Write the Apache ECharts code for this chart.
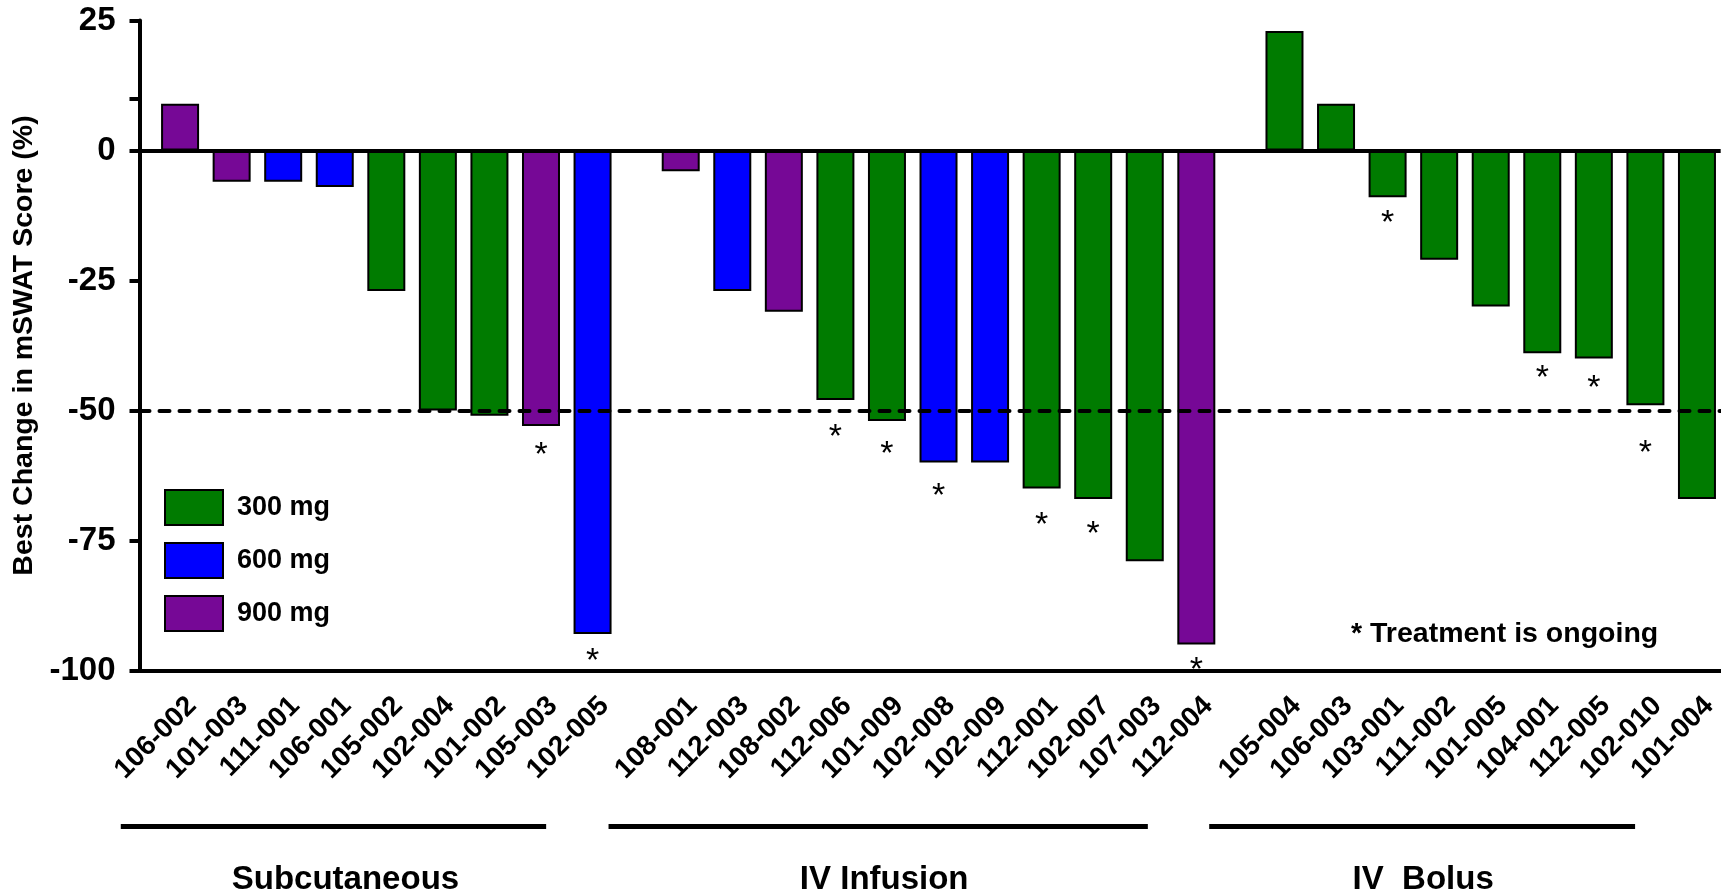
<!DOCTYPE html>
<html>
<head>
<meta charset="utf-8">
<title>Best Change in mSWAT Score</title>
<script src="https://cdn.jsdelivr.net/npm/echarts@6/dist/echarts.min.js"></script>
<style>
  html, body { margin: 0; padding: 0; background: #ffffff; }
  #chart { width: 1721px; height: 894px; }
</style>
</head>
<body>
<div id="chart"></div>
<script>
// ---- Data: best change in mSWAT score (%) per patient, by route of administration ----
const subcutaneousIds      = ['106-002', '101-003', '111-001', '106-001', '105-002', '102-004', '101-002', '105-003', '102-005'];
const subcutaneousChange   = [9, -6, -6, -7, -27, -50, -51, -53, -93];
const subcutaneousDose     = [900, 900, 600, 600, 300, 300, 300, 900, 600];
const subcutaneousOngoing  = [false, false, false, false, false, false, false, true, true];

const infusionIds          = ['108-001', '112-003', '108-002', '112-006', '101-009', '102-008', '102-009', '112-001', '102-007', '107-003', '112-004'];
const infusionChange       = [-4, -27, -31, -48, -52, -60, -60, -65, -67, -79, -95];
const infusionDose         = [900, 600, 900, 300, 300, 600, 600, 300, 300, 300, 900];
const infusionOngoing      = [false, false, false, true, true, true, false, true, true, false, true];

const bolusIds             = ['105-004', '106-003', '103-001', '111-002', '101-005', '104-001', '112-005', '102-010', '101-004'];
const bolusChange          = [23, 9, -9, -21, -30, -39, -40, -49, -67];
const bolusDose            = [300, 300, 300, 300, 300, 300, 300, 300, 300];
const bolusOngoing         = [false, false, true, false, false, true, true, true, false];

const groupNames   = ['Subcutaneous', 'IV Infusion', 'IV  Bolus'];
const doseLevels   = [300, 600, 900];
const doseNames    = ['300 mg', '600 mg', '900 mg'];
const yTickValues  = [25, 10, 0, -25, -50, -75, -100];
const responseCut  = -50;
const ongoingNote  = '* Treatment is ongoing';

// ---- Styling / layout ----
const FONT = "'Liberation Sans', Arial, Helvetica, sans-serif";
const doseColors = { 300: '#007b00', 600: '#0000ff', 900: '#760896' };
const groupGap = 0.71;                 // extra slot space between route groups
const bracketSpan = [[-1.15, -0.9], [-1.4, -0.94], [-1.46, -1.2]];
const groupNameShift = [12, 6, 1];     // px nudge of each route name from its bracket centre
// gap (px) between a bar's end and its "ongoing" asterisk
const asteriskGap = {
  '105-003': 13, '102-005': 11, '112-006': 21, '101-009': 17, '102-008': 17,
  '112-001': 20, '102-007': 19, '112-004': 9, '103-001': 9, '104-001': 8,
  '112-005': 13, '102-010': 31
};

const groups = [
  { ids: subcutaneousIds, change: subcutaneousChange, dose: subcutaneousDose, ongoing: subcutaneousOngoing },
  { ids: infusionIds,     change: infusionChange,     dose: infusionDose,     ongoing: infusionOngoing },
  { ids: bolusIds,        change: bolusChange,        dose: bolusDose,        ongoing: bolusOngoing }
];

// slot positions along the x axis
let cursor = 0;
const labelByPos = {};
const allPositions = [];
groups.forEach(g => {
  g.positions = g.ids.map((id) => {
    const p = +cursor.toFixed(3);
    labelByPos[p.toFixed(3)] = id;
    allPositions.push(p);
    cursor += 1;
    return p;
  });
  cursor += groupGap;
});

const seriesList = doseLevels.map((dose, di) => {
  const data = [];
  groups.forEach(g => {
    g.ids.forEach((id, i) => {
      if (g.dose[i] !== dose) return;
      const item = { value: [g.positions[i], g.change[i]] };
      if (g.ongoing[i]) {
        item.label = { show: true, distance: asteriskGap[id] != null ? asteriskGap[id] : 10 };
      }
      data.push(item);
    });
  });
  const s = {
    name: doseNames[di],
    type: 'bar',
    barWidth: 38,
    barGap: '-100%',
    data: data,
    itemStyle: { color: doseColors[dose], borderColor: '#000', borderWidth: 2 },
    label: {
      show: false,
      position: 'bottom',
      distance: 10,
      formatter: '*',
      color: '#000',
      fontSize: 34,
      fontFamily: FONT
    }
  };
  if (di === 0) {
    s.markLine = {
      silent: true,
      symbol: 'none',
      label: { show: false },
      z: 6,
      data: [
        { yAxis: 0, lineStyle: { color: '#000', width: 4, type: 'solid' } },
        { yAxis: responseCut, lineStyle: { color: '#000', width: 4, type: [10, 10], cap: 'round' } }
      ]
    };
  }
  return s;
});

const chart = echarts.init(document.getElementById('chart'), null, { renderer: 'canvas' });

const option = {
  animation: false,
  backgroundColor: '#ffffff',
  textStyle: { fontFamily: FONT },
  grid: { left: 139.5, right: 0, top: 20.5, bottom: 223.5, containLabel: false },
  legend: {
    data: doseNames,
    orient: 'vertical',
    left: 164,
    top: 489,
    padding: 0,
    itemWidth: 58,
    itemHeight: 35,
    itemGap: 16,
    icon: 'rect',
    selectedMode: false,
    textStyle: { fontSize: 27, fontWeight: 'bold', color: '#000', fontFamily: FONT, padding: [0, 0, 0, 9] }
  },
  xAxis: {
    type: 'value',
    min: -0.787,
    max: 29.88,
    splitLine: { show: false },
    axisLine: { show: true, onZero: false, lineStyle: { color: '#000', width: 4 } },
    axisTick: { show: false },
    axisLabel: {
      customValues: allPositions,
      rotate: 45,
      margin: 19,
      verticalAlign: 'top',
      padding: [3, 0, 0, 0],
      fontSize: 28,
      fontWeight: 'bold',
      color: '#000',
      fontFamily: FONT,
      formatter: v => labelByPos[(+v).toFixed(3)] || ''
    }
  },
  yAxis: {
    type: 'value',
    min: -100,
    max: 25,
    interval: 25,
    name: 'Best Change in mSWAT Score (%)',
    nameLocation: 'middle',
    nameGap: 98,
    nameTextStyle: { fontSize: 28.5, fontWeight: 'bold', color: '#000', fontFamily: FONT },
    splitLine: { show: false },
    axisLine: { show: true, onZero: false, lineStyle: { color: '#000', width: 4 } },
    axisTick: { show: true, customValues: yTickValues, length: 10, lineStyle: { color: '#000', width: 4 } },
    axisLabel: { fontSize: 33, fontWeight: 'bold', color: '#000', margin: 24, fontFamily: FONT }
  },
  series: seriesList
};

chart.setOption(option);

// route brackets and group names beneath the patient labels
const graphics = [];
groups.forEach((g, gi) => {
  const first = g.positions[0];
  const last = g.positions[g.positions.length - 1];
  const x0 = chart.convertToPixel({ xAxisIndex: 0 }, first + bracketSpan[gi][0]);
  const x1 = chart.convertToPixel({ xAxisIndex: 0 }, last + bracketSpan[gi][1]);
  graphics.push({
    type: 'line',
    shape: { x1: x0, y1: 826.5, x2: x1, y2: 826.5 },
    style: { stroke: '#000', lineWidth: 5 },
    silent: true
  });
  graphics.push({
    type: 'text',
    x: (x0 + x1) / 2 + groupNameShift[gi],
    y: 880,
    style: {
      text: groupNames[gi],
      fontSize: 33,
      fontWeight: 'bold',
      fontFamily: FONT,
      fill: '#000',
      align: 'center',
      verticalAlign: 'middle'
    },
    silent: true
  });
});
graphics.push({
  type: 'text',
  x: 1351,
  y: 634,
  style: {
    text: ongoingNote,
    fontSize: 28.5,
    fontWeight: 'bold',
    fontFamily: FONT,
    fill: '#000',
    align: 'left',
    verticalAlign: 'middle'
  },
  silent: true
});
chart.setOption({ graphic: graphics });
</script>
</body>
</html>
